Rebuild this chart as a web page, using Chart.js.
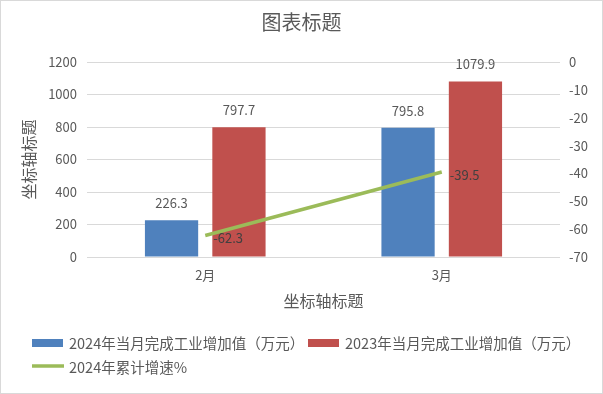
<!DOCTYPE html>
<html>
<head>
<meta charset="utf-8">
<script src="https://cdn.jsdelivr.net/npm/chart.js@4/dist/chart.umd.min.js"></script>
<style>
html,body{margin:0;padding:0;background:#fff;}
#wrap{width:603px;height:394px;position:relative;}
</style>
</head>
<body>
<div id="wrap"><canvas id="c" width="603" height="394"></canvas></div>
<script>
const categories = ['2月', '3月'];
const values2024 = [226.3, 795.8];
const values2023 = [797.7, 1079.9];
const growth2024 = [-62.3, -39.5];
const seriesNames = ['2024年当月完成工业增加值（万元）', '2023年当月完成工业增加值（万元）', '2024年累计增速%'];
const chartTitle = '图表标题';
const axisTitle = '坐标轴标题';

const FONT = '"Noto Sans CJK SC", "Microsoft YaHei", sans-serif';
Chart.defaults.font.family = FONT;
Chart.defaults.color = '#595959';

const bgPlugin = {
  id: 'bg',
  beforeDraw(chart) {
    const ctx = chart.ctx;
    ctx.save();
    ctx.fillStyle = '#fff';
    ctx.fillRect(0, 0, chart.width, chart.height);
    ctx.strokeStyle = '#D9D9D9';
    ctx.lineWidth = 1;
    ctx.strokeRect(0.5, 0.5, chart.width - 1, chart.height - 1);
    ctx.restore();
  }
};

const labelPlugin = {
  id: 'labels',
  afterDatasetsDraw(chart) {
    const ctx = chart.ctx;
    ctx.save();
    ctx.font = '13px ' + FONT;
    chart.data.datasets.forEach((ds, di) => {
      const meta = chart.getDatasetMeta(di);
      meta.data.forEach((el, i) => {
        const v = ds.data[i];
        if (ds.type === 'line') {
          ctx.fillStyle = '#404040';
          ctx.textAlign = 'left';
          ctx.textBaseline = 'middle';
          ctx.fillText(v.toFixed(1), el.x + 8, el.y + 3);
        } else {
          ctx.fillStyle = '#595959';
          ctx.textAlign = 'center';
          ctx.textBaseline = 'middle';
          ctx.fillText(v.toFixed(1), el.x, el.y - 17);
        }
      });
    });
    ctx.restore();
  }
};

const legendPlugin = {
  id: 'customLegend',
  afterDraw(chart) {
    const ctx = chart.ctx;
    const ds = chart.data.datasets;
    ctx.save();
    ctx.font = '14.5px ' + FONT;
    ctx.textBaseline = 'middle';
    ctx.textAlign = 'left';
    ctx.fillStyle = ds[0].backgroundColor;
    ctx.fillRect(32, 339, 31, 8);
    ctx.fillStyle = '#595959';
    ctx.fillText(ds[0].label, 69, 343);
    ctx.fillStyle = ds[1].backgroundColor;
    ctx.fillRect(308, 339, 31, 8);
    ctx.fillStyle = '#595959';
    ctx.fillText(ds[1].label, 345, 343);
    ctx.strokeStyle = ds[2].borderColor;
    ctx.lineWidth = 3.5;
    ctx.beginPath();
    ctx.moveTo(32, 366);
    ctx.lineTo(64, 366);
    ctx.stroke();
    ctx.fillStyle = '#595959';
    ctx.fillText(ds[2].label, 69, 367);
    ctx.restore();
  }
};

new Chart(document.getElementById('c'), {
  data: {
    labels: categories,
    datasets: [
      { type: 'bar', label: seriesNames[0], data: values2024, backgroundColor: '#4F81BD', yAxisID: 'y',
        categoryPercentage: 0.57, barPercentage: 0.79 },
      { type: 'bar', label: seriesNames[1], data: values2023, backgroundColor: '#C0504D', yAxisID: 'y',
        categoryPercentage: 0.57, barPercentage: 0.79 },
      { type: 'line', label: seriesNames[2], data: growth2024, borderColor: '#9BBB59', backgroundColor: '#9BBB59',
        borderWidth: 3.5, pointRadius: 0, yAxisID: 'y1', order: -1, tension: 0 }
    ]
  },
  options: {
    responsive: false,
    animation: false,
    devicePixelRatio: 1,
    layout: { padding: { left: 0, right: 0, top: 0, bottom: 79 } },
    plugins: {
      legend: { display: false },
      tooltip: { enabled: false },
      title: {
        display: true, text: chartTitle, color: '#595959',
        font: { size: 20, weight: 'normal', family: FONT },
        padding: { top: 10, bottom: 28 }
      }
    },
    scales: {
      x: {
        grid: { display: false, drawTicks: false },
        border: { display: false },
        ticks: { color: '#595959', font: { size: 13 }, padding: 10 },
        title: { display: true, text: axisTitle, color: '#595959', font: { size: 16 }, padding: { top: 0, bottom: 4.5 } },
        afterFit(s) { s.height = 58; }
      },
      y: {
        position: 'left', min: 0, max: 1200,
        ticks: { stepSize: 200, color: '#595959', font: { size: 13 }, padding: 10,
          callback: (v) => String(v) },
        grid: { color: '#D9D9D9', drawTicks: false },
        border: { display: false },
        title: { display: true, text: axisTitle, color: '#595959', font: { size: 16 }, padding: { top: 19, bottom: 0 } },
        afterFit(s) { s.width = 87; }
      },
      y1: {
        position: 'right', min: -70, max: 0,
        ticks: { stepSize: 10, color: '#595959', font: { size: 13 }, padding: 9,
          callback: (v) => String(v) },
        grid: { display: false, drawTicks: false },
        border: { display: false },
        afterFit(s) { s.width = 43; }
      }
    }
  },
  plugins: [bgPlugin, labelPlugin, legendPlugin]
});
</script>
</body>
</html>
